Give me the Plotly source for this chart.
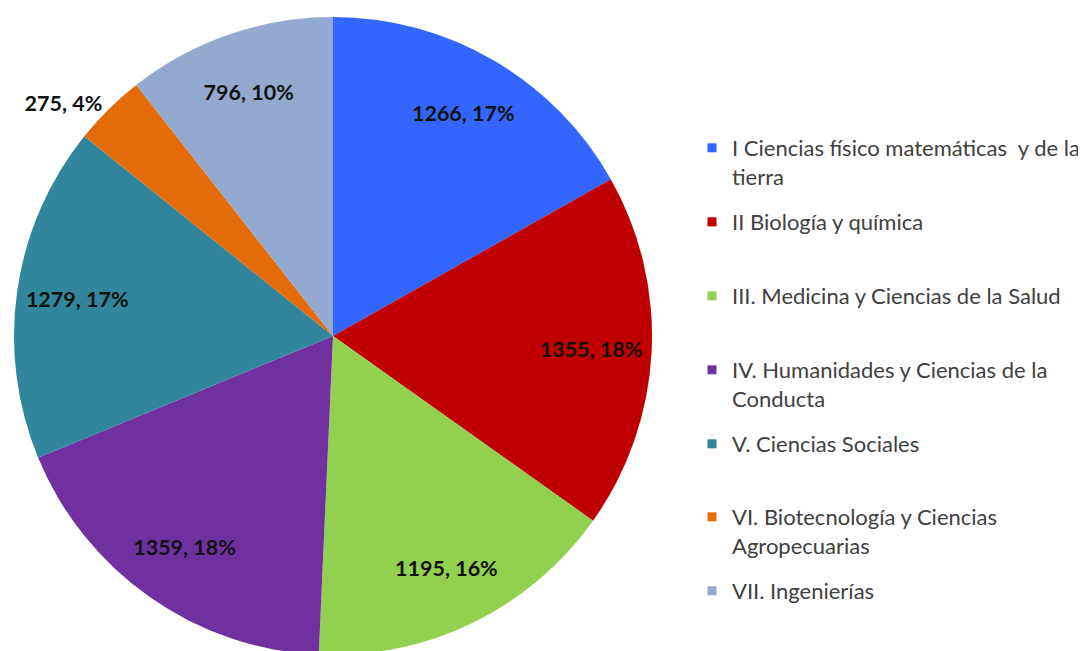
import plotly.graph_objects as go

categories = [
    "I Ciencias físico matemáticas  y de la<br>tierra",
    "II Biología y química",
    "III. Medicina y Ciencias de la Salud",
    "IV. Humanidades y Ciencias de la<br>Conducta",
    "V. Ciencias Sociales",
    "VI. Biotecnología y Ciencias<br>Agropecuarias",
    "VII. Ingenierías",
]
values = [1266, 1355, 1195, 1359, 1279, 275, 796]
percent_labels = ["17%", "18%", "16%", "18%", "17%", "4%", "10%"]
colors = ["#3366FF", "#C00000", "#92D050", "#7030A0", "#31859C", "#E36C09", "#94A9CF"]
text_positions = ["inside", "inside", "inside", "inside", "inside", "outside", "inside"]

W, H = 1086, 651
cx, cy, R = 325, 328, 319
domain = dict(x=[(cx - R) / W, (cx + R) / W],
              y=[max(0, (H - cy - R) / H), min(1, (H - cy + R) / H)])

fig = go.Figure()
# coloured slices
fig.add_trace(go.Pie(
    labels=categories, values=values,
    marker=dict(colors=colors, line=dict(width=0)),
    sort=False, direction="clockwise", rotation=0,
    textinfo="none", showlegend=False, domain=domain,
    hoverinfo="label+value+percent",
))
# transparent ring carrying the data labels (places them near the rim)
fig.add_trace(go.Pie(
    labels=categories, values=values, text=percent_labels,
    marker=dict(colors=["rgba(0,0,0,0)"] * len(values), line=dict(width=0)),
    sort=False, direction="clockwise", rotation=0, hole=0.62,
    texttemplate="<b>%{value}, %{text}</b>",
    textposition=text_positions,
    insidetextorientation="horizontal",
    textfont=dict(family="Lato", size=21.5, color="#111111"),
    showlegend=False, domain=domain, hoverinfo="skip",
))

# Legend entries (one legend per entry to reproduce the spacing)
first_line_y = [147, 221, 295, 369, 443, 516, 590]
for i, (name, col) in enumerate(zip(categories, colors)):
    lname = "legend" if i == 0 else f"legend{i+1}"
    fig.add_trace(go.Scatter(
        x=[None], y=[None], mode="markers", name=name,
        marker=dict(symbol="square", size=9, color=col),
        legend=lname, showlegend=True, hoverinfo="skip",
    ))
    fig.update_layout(**{lname: dict(
        x=684 / W, xanchor="left",
        y=1 - (first_line_y[i] - 28) / H, yanchor="top",
        font=dict(family="Lato", size=22, color="#404040"),
        bgcolor="rgba(0,0,0,0)", valign="top", itemclick=False, itemdoubleclick=False,
    )})

fig.update_layout(
    width=W, height=H,
    margin=dict(l=0, r=0, t=0, b=0),
    paper_bgcolor="white", plot_bgcolor="white",
    xaxis=dict(visible=False), yaxis=dict(visible=False),
)
fig.write_html("out.html")
